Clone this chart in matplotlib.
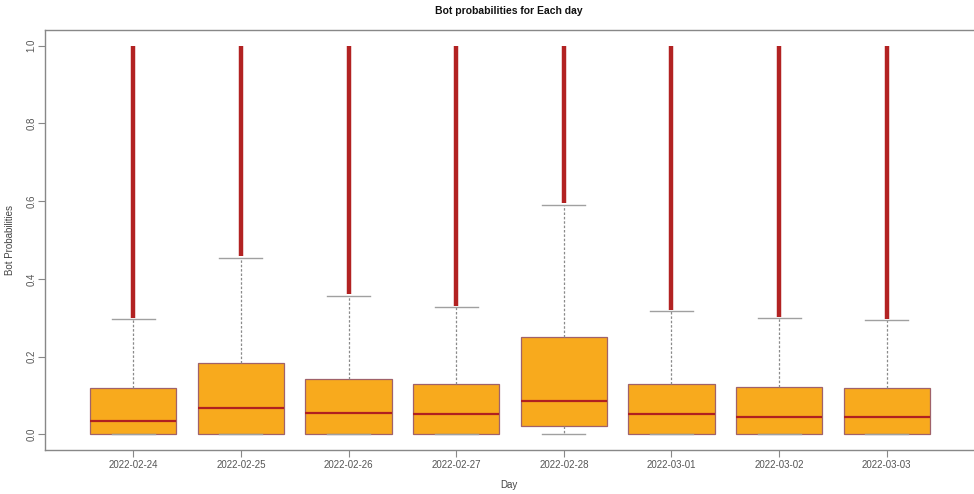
import matplotlib
matplotlib.use("Agg")
import matplotlib.pyplot as plt

days = ["2022-02-24", "2022-02-25", "2022-02-26", "2022-02-27",
        "2022-02-28", "2022-03-01", "2022-03-02", "2022-03-03"]
q1 = [0.0, 0.0, 0.0, 0.0, 0.023, 0.0, 0.0, 0.0]
median = [0.034, 0.067, 0.054, 0.052, 0.085, 0.052, 0.046, 0.046]
q3 = [0.119, 0.183, 0.142, 0.131, 0.250, 0.129, 0.121, 0.119]
whisk_lo = [0.0, 0.0, 0.0, 0.0, 0.0, 0.0, 0.0, 0.0]
whisk_hi = [0.296, 0.454, 0.356, 0.327, 0.590, 0.317, 0.299, 0.294]
outlier_lo = [0.300, 0.458, 0.360, 0.331, 0.594, 0.321, 0.303, 0.298]
outlier_hi = [1.0, 1.0, 1.0, 1.0, 1.0, 1.0, 1.0, 1.0]

plt.rcParams['font.family'] = ['Liberation Sans', 'DejaVu Sans']

fig = plt.figure(figsize=(9.74, 4.94), dpi=100)
ax = fig.add_axes([45/974, 44/494, 930/974, 420/494])

stats = []
for i in range(len(days)):
    stats.append(dict(med=median[i], q1=q1[i], q3=q3[i],
                      whislo=whisk_lo[i], whishi=whisk_hi[i], fliers=[]))
pos = list(range(1, len(days) + 1))

ax.bxp(stats, positions=pos, widths=0.8, patch_artist=True, showfliers=False,
       boxprops=dict(facecolor="#F8AA1D", edgecolor="#A0626A", linewidth=0.9),
       medianprops=dict(color="#B02020", linewidth=1.6),
       whiskerprops=dict(color="#8A8A8A", linestyle=(0, (2, 1.5)), linewidth=0.9),
       capprops=dict(color="#A0A0A0", linewidth=1.0),
       capwidths=0.4)

ax.vlines(pos, outlier_lo, outlier_hi, colors="#B22222", linewidth=3.2, zorder=3)

ax.set_xlim(0.18, 8.82)
ax.set_ylim(-0.04, 1.04)
ax.set_xticks(pos)
ax.set_xticklabels(days)
ax.set_yticks([0.0, 0.2, 0.4, 0.6, 0.8, 1.0])
ax.set_yticklabels(["0.0", "0.2", "0.4", "0.6", "0.8", "1.0"], rotation=90, va="center")
ax.tick_params(axis="both", labelsize=7, colors="#888888", labelcolor="#555555", length=5, width=0.8)
ax.tick_params(axis="x", pad=2)
ax.tick_params(axis="y", pad=1)
for s in ax.spines.values():
    s.set_color("#888888")
    s.set_linewidth(1.0)

fig.text(509/974, 1 - 11/494, "Bot probabilities for Each day", ha="center", va="center",
         fontsize=7.5, fontweight="bold", color="#111111")
fig.text(509/974, 1 - 485/494, "Day", ha="center", va="center", fontsize=7, color="#444444")
fig.text(10/974, 1 - 240/494, "Bot Probabilities", ha="center", va="center", rotation=90,
         fontsize=7, color="#444444")

fig.savefig("out.png", dpi=100)
